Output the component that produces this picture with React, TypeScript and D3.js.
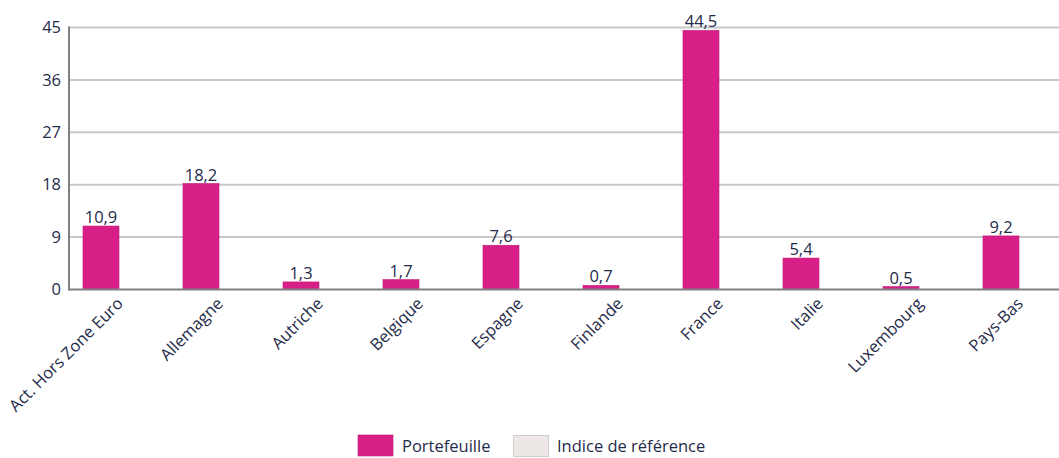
import React from "react";
import * as d3 from "d3";

const categories = ["Act. Hors Zone Euro", "Allemagne", "Autriche", "Belgique", "Espagne", "Finlande", "France", "Italie", "Luxembourg", "Pays-Bas"];
const portefeuille = [10.9, 18.2, 1.3, 1.7, 7.6, 0.7, 44.5, 5.4, 0.5, 9.2];
const yTicks = [0, 9, 18, 27, 36, 45];
const seriesNames = ["Portefeuille", "Indice de référence"];

const W = 1059, H = 458;
const m = { left: 69, top: 27.5, bottom: 289.5 };
const FONT = "'Open Sans', 'Noto Sans', sans-serif";
const TXT = "#1f2b4a";
const PINK = "#d81f88";

export default function App() {
  const x = d3.scaleBand<string>().domain(categories).range([m.left, m.left + 1000]).paddingInner(0.28).paddingOuter(0.14);
  const sub = d3.scaleBand<string>().domain(seriesNames).range([0, x.bandwidth()]);
  const y = d3.scaleLinear().domain([0, 45]).range([m.bottom, m.top]);
  const fmt = (v: number) => v.toFixed(1).replace(".", ",");
  return (
    <svg width={W} height={H} style={{ position: "absolute", left: 0, top: 0, fontFamily: FONT }}>
      {yTicks.map((t) => (
        <g key={t}>
          {t > 0 && <line x1={m.left} x2={W} y1={y(t)} y2={y(t)} stroke="#c8c8c8" strokeWidth={2} />}
          <text x={61} y={y(t)} dy="0.35em" textAnchor="end" fontSize={16.5} fill={TXT}>{t}</text>
        </g>
      ))}
      {categories.map((c, i) => {
        const bx = (x(c) as number) + (sub("Portefeuille") as number);
        const v = portefeuille[i];
        return (
          <g key={c}>
            <rect x={bx} y={y(v)} width={sub.bandwidth()} height={y(0) - y(v)} fill={PINK} stroke="#c01a78" strokeWidth={0.6} />
            <text x={bx + sub.bandwidth() / 2} y={y(v) - 3} textAnchor="middle" fontSize={16.5} fill={TXT}>{fmt(v)}</text>
          </g>
        );
      })}
      <line x1={m.left} x2={W} y1={m.bottom} y2={m.bottom} stroke="#808080" strokeWidth={2} />
      <line x1={m.left} x2={m.left} y1={m.top - 1} y2={m.bottom + 1} stroke="#808080" strokeWidth={2} />
      {categories.map((c) => {
        const cx = (x(c) as number) + x.bandwidth() / 2;
        return (
          <text key={c} transform={`translate(${cx + 1},${m.bottom + 11}) rotate(-45)`} textAnchor="end" dy="0.35em" fontSize={16.5} fill={TXT}>{c}</text>
        );
      })}
      <rect x={358} y={435} width={35} height={21} fill={PINK} stroke="#c01a78" strokeWidth={0.6} />
      <text x={402} y={452} fontSize={16.5} fill={TXT}>{seriesNames[0]}</text>
      <rect x={513.5} y={435.5} width={35} height={21} fill="#ede8e6" stroke="#cfcfcf" strokeWidth={1} />
      <text x={557} y={452} fontSize={16.5} fill={TXT}>{seriesNames[1]}</text>
    </svg>
  );
}
